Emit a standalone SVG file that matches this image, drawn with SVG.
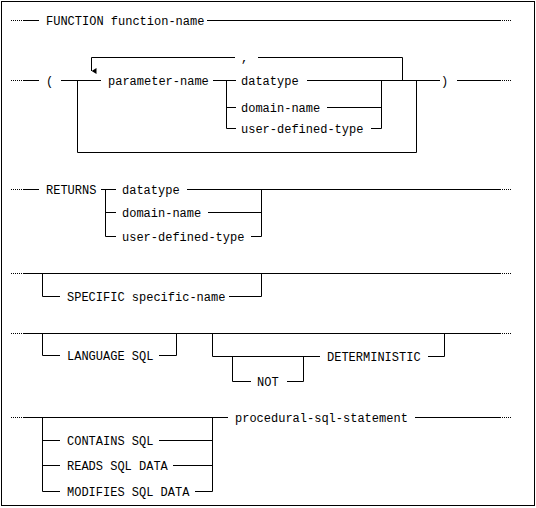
<svg xmlns="http://www.w3.org/2000/svg" width="536" height="508" viewBox="0 0 536 508">
<style>
text{font-family:"Liberation Mono","DejaVu Sans Mono",monospace;font-size:12px;fill:#000}
.l{stroke:#000;stroke-width:1;fill:none}
.d{stroke:#000;stroke-width:1;fill:none;stroke-dasharray:1 1}
</style>
<defs>
<marker id="arr" markerWidth="6" markerHeight="5" refX="3" refY="5" orient="auto-start-reverse" markerUnits="userSpaceOnUse" viewBox="0 0 6 5">
<path d="M0,0 L6,0 L3,5 Z" fill="#000"/>
</marker>
</defs>
<rect x="1.5" y="1.5" width="533" height="504" fill="#fff" stroke="#000"/>
<g id="connectors">
<!-- row 1 -->
<path class="d" d="M11,20.5H24M500,20.5H511"/>
<path class="l" d="M24,20.5H39M207,20.5H500"/>
<!-- row 2 -->
<path class="d" d="M11,80.5H24M500,80.5H511"/>
<path class="l" d="M24,80.5H39M61,80.5H101M213,80.5H236M307,80.5H440M457,80.5H500"/>
<path class="l" d="M226.5,80.5V128.5H236M226.5,107.5H236M327,107.5H381.5M371,128.5H381.5V80.5"/>
<path class="l" d="M402.5,80.5V57.5H258M235,57.5H91.5V71" marker-end="url(#arr)"/>
<path class="l" d="M77.5,80.5V152.5H416.5V80.5"/>
<!-- row 3 -->
<path class="d" d="M11,189.5H24M500,189.5H511"/>
<path class="l" d="M24,189.5H39M101,189.5H116M187,189.5H500"/>
<path class="l" d="M105.5,189.5V236.5H116M105.5,212.5H116M208,212.5H261.5M251,236.5H261.5V189.5"/>
<!-- row 4 -->
<path class="d" d="M11,273.5H24M500,273.5H511"/>
<path class="l" d="M24,273.5H500M42.5,273.5V296.5H60M229,296.5H261.5V273.5"/>
<!-- row 5 -->
<path class="d" d="M11,333.5H24M500,333.5H511"/>
<path class="l" d="M24,333.5H500M42.5,333.5V355.5H60M159,355.5H176.5V333.5"/>
<path class="l" d="M212.5,333.5V356.5H320M428,356.5H444.5V333.5"/>
<path class="l" d="M232.5,356.5V381.5H251M287,381.5H303.5V356.5"/>
<!-- row 6 -->
<path class="d" d="M11,417.5H24M500,417.5H511"/>
<path class="l" d="M24,417.5H228M415,417.5H500"/>
<path class="l" d="M42.5,417.5V491.5H60M42.5,440.5H60M42.5,465.5H60"/>
<path class="l" d="M159,440.5H212.5M173,465.5H212.5M195,491.5H212.5M212.5,417.5V491.5"/>
</g>
<g id="n-function"><text x="46" y="24.5">FUNCTION function-name</text></g>
<g id="n-lparen"><text x="46" y="84.5">(</text></g>
<g id="n-parameter-name"><text x="108" y="84.5">parameter-name</text></g>
<g id="n-comma"><text x="241" y="61.5">,</text></g>
<g id="n-datatype1"><text x="241" y="84.5">datatype</text></g>
<g id="n-domain-name1"><text x="241" y="111.5">domain-name</text></g>
<g id="n-udt1"><text x="241" y="132.5">user-defined-type</text></g>
<g id="n-rparen"><text x="441" y="84.5">)</text></g>
<g id="n-returns"><text x="46" y="193.5">RETURNS</text></g>
<g id="n-datatype2"><text x="122" y="193.5">datatype</text></g>
<g id="n-domain-name2"><text x="122" y="216.5">domain-name</text></g>
<g id="n-udt2"><text x="122" y="240.5">user-defined-type</text></g>
<g id="n-specific"><text x="67" y="300.5">SPECIFIC specific-name</text></g>
<g id="n-language"><text x="67" y="359.5">LANGUAGE SQL</text></g>
<g id="n-deterministic"><text x="327" y="360.5">DETERMINISTIC</text></g>
<g id="n-not"><text x="257" y="385.5">NOT</text></g>
<g id="n-procedural"><text x="235" y="421.5">procedural-sql-statement</text></g>
<g id="n-contains"><text x="67" y="444.5">CONTAINS SQL</text></g>
<g id="n-reads"><text x="67" y="469.5">READS SQL DATA</text></g>
<g id="n-modifies"><text x="67" y="495.5">MODIFIES SQL DATA</text></g>
</svg>
